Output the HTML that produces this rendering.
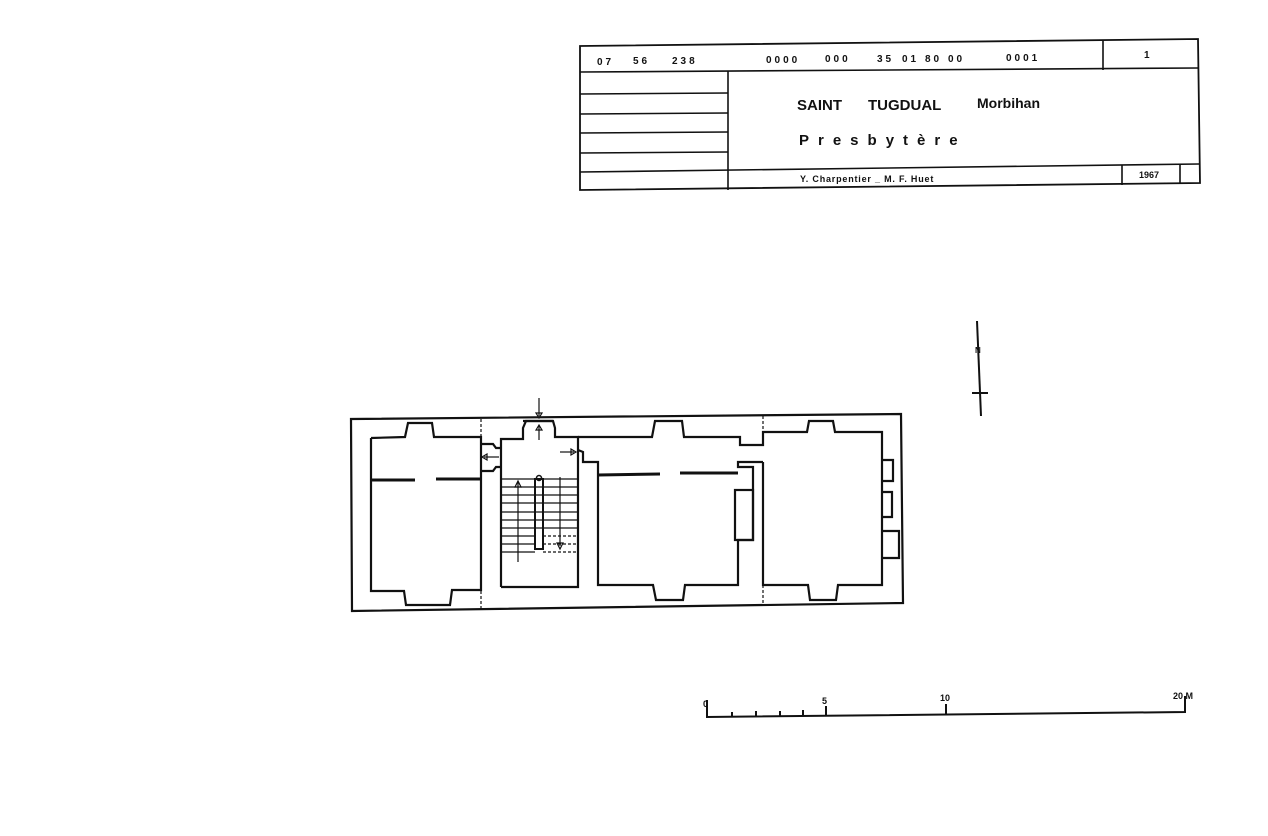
<!DOCTYPE html>
<html><head><meta charset="utf-8"><style>
html,body{margin:0;padding:0;background:#fff;}
svg{display:block}
text{font-family:"Liberation Sans",sans-serif;font-weight:bold;fill:#111}
</style></head><body>
<svg width="1268" height="836" viewBox="0 0 1268 836" xmlns="http://www.w3.org/2000/svg">
<rect width="1268" height="836" fill="#fff"/>
<g stroke="#111" fill="none" stroke-width="1.6">
<polygon points="580,46 1198,39 1200,183 580,190" stroke-width="1.8"/>
<line x1="580" y1="72" x2="1198" y2="68"/>
<line x1="1103" y1="40" x2="1103" y2="70"/>
<line x1="728" y1="71" x2="728" y2="190"/>
<line x1="580" y1="94" x2="728" y2="93"/>
<line x1="580" y1="114" x2="728" y2="113"/>
<line x1="580" y1="133" x2="728" y2="132"/>
<line x1="580" y1="153" x2="728" y2="152"/>
<line x1="580" y1="172" x2="1199" y2="164"/>
<line x1="1122" y1="165" x2="1122" y2="185"/>
<line x1="1180" y1="164" x2="1180" y2="184"/>
</g>
<g font-size="10" letter-spacing="3">
<text x="597" y="65">07</text>
<text x="633" y="64">56</text>
<text x="672" y="64">238</text>
<text x="766" y="63">0000</text>
<text x="825" y="62">000</text>
<text x="877" y="62">35</text>
<text x="902" y="62">01</text>
<text x="925" y="62">80</text>
<text x="948" y="62">00</text>
<text x="1006" y="61">0001</text>
</g>
<text x="1144" y="58" font-size="10">1</text>
<text x="797" y="110" font-size="15">SAINT</text>
<text x="868" y="110" font-size="15">TUGDUAL</text>
<text x="977" y="108" font-size="14">Morbihan</text>
<text x="799" y="145" font-size="15" letter-spacing="9">Presbytère</text>
<text x="800" y="182" font-size="9" letter-spacing="0.8">Y. Charpentier _ M. F. Huet</text>
<text x="1139" y="178" font-size="9">1967</text>

<g stroke="#111" stroke-width="2">
<line x1="977" y1="321" x2="981" y2="416"/>
<line x1="972" y1="393" x2="988" y2="393"/>
</g>
<text x="975" y="353" font-size="8">N</text>

<g stroke="#111" fill="none" stroke-width="2.2" stroke-linejoin="miter">
<polygon points="351,419 901,414 903,603 352,611"/>
<polyline points="371,438 405,437 408,423 432,423 434,437 481,437 481,590 452,590 450,605 406,605 404,591 371,591 371,438"/>
<line x1="371" y1="480" x2="415" y2="480" stroke-width="3"/>
<line x1="436" y1="479" x2="481" y2="479" stroke-width="3"/>
<polyline points="481,444 493,444 496,448 501,448"/>
<polyline points="481,471 493,471 496,467 501,467"/>
<polyline points="501,587 501,439 523,439 523,428 526,421 553,421 555,428 555,437 578,437 578,587 501,587"/>
<line x1="523" y1="421" x2="553" y2="421"/>
<polyline points="578,450 583,452 583,462 598,462 598,585 653,585 656,600 683,600 685,585 738,585 738,540 753,540 753,467 738,467 738,462 763,462"/>
<polyline points="578,437 652,437 655,421 682,421 684,437 740,437 740,445 763,445 763,432 807,432 809,421 833,421 835,432 882,432 882,585 838,585 836,600 810,600 808,585 763,585 763,462"/>
<rect x="735" y="490" width="18" height="50"/>
<line x1="598" y1="475" x2="660" y2="474" stroke-width="3"/>
<line x1="680" y1="473" x2="738" y2="473" stroke-width="3"/>
<polyline points="882,460 893,460 893,481 882,481"/>
<polyline points="882,492 892,492 892,517 882,517"/>
<polyline points="882,531 899,531 899,558 882,558"/>
</g>
<g stroke="#111" stroke-width="1.2" fill="none">
<line x1="481" y1="419" x2="481" y2="437" stroke-dasharray="3,2"/>
<line x1="481" y1="591" x2="481" y2="610" stroke-dasharray="3,2"/>
<line x1="763" y1="416" x2="763" y2="432" stroke-dasharray="3,2"/>
<line x1="763" y1="585" x2="763" y2="604" stroke-dasharray="3,2"/>
<line x1="501" y1="479" x2="578" y2="479"/>
<line x1="501" y1="487" x2="578" y2="487"/>
<line x1="501" y1="495" x2="578" y2="495"/>
<line x1="501" y1="503" x2="578" y2="503"/>
<line x1="501" y1="512" x2="578" y2="512"/>
<line x1="501" y1="520" x2="578" y2="520"/>
<line x1="501" y1="528" x2="578" y2="528"/>
<line x1="501" y1="536" x2="535" y2="536"/>
<line x1="501" y1="544" x2="535" y2="544"/>
<line x1="501" y1="552" x2="535" y2="552"/>
<line x1="543" y1="536" x2="578" y2="536" stroke-dasharray="3,2"/>
<line x1="543" y1="544" x2="578" y2="544" stroke-dasharray="3,2"/>
<line x1="543" y1="552" x2="578" y2="552" stroke-dasharray="3,2"/>
<rect x="535" y="479" width="8" height="70" stroke-width="2"/>
<circle cx="539" cy="478" r="2.5" stroke-width="1.5"/>
<line x1="518" y1="482" x2="518" y2="562"/>
<polygon points="515,487 518,481 521,487"/>
<line x1="560" y1="477" x2="560" y2="546"/>
<polygon points="557,543 560,549 563,543"/>
<line x1="539" y1="398" x2="539" y2="416"/>
<polygon points="536,413 539,418 542,413"/>
<line x1="539" y1="440" x2="539" y2="426"/>
<polygon points="536,430 539,425 542,430"/>
<line x1="499" y1="457" x2="484" y2="457"/>
<polygon points="487,454 482,457 487,460"/>
<line x1="560" y1="452" x2="574" y2="452"/>
<polygon points="571,449 576,452 571,455"/>
</g>

<g stroke="#111" stroke-width="2" fill="none">
<polyline points="707,700 707,717 1185,712 1185,696"/>
<line x1="732" y1="712" x2="732" y2="717"/>
<line x1="756" y1="711" x2="756" y2="717"/>
<line x1="780" y1="711" x2="780" y2="716"/>
<line x1="803" y1="710" x2="803" y2="716"/>
<line x1="826" y1="706" x2="826" y2="716"/>
<line x1="946" y1="704" x2="946" y2="715"/>
</g>
<text x="703" y="707" font-size="9">0</text>
<text x="822" y="704" font-size="9">5</text>
<text x="940" y="701" font-size="9">10</text>
<text x="1173" y="699" font-size="9">20 M</text>
</svg>
</body></html>
